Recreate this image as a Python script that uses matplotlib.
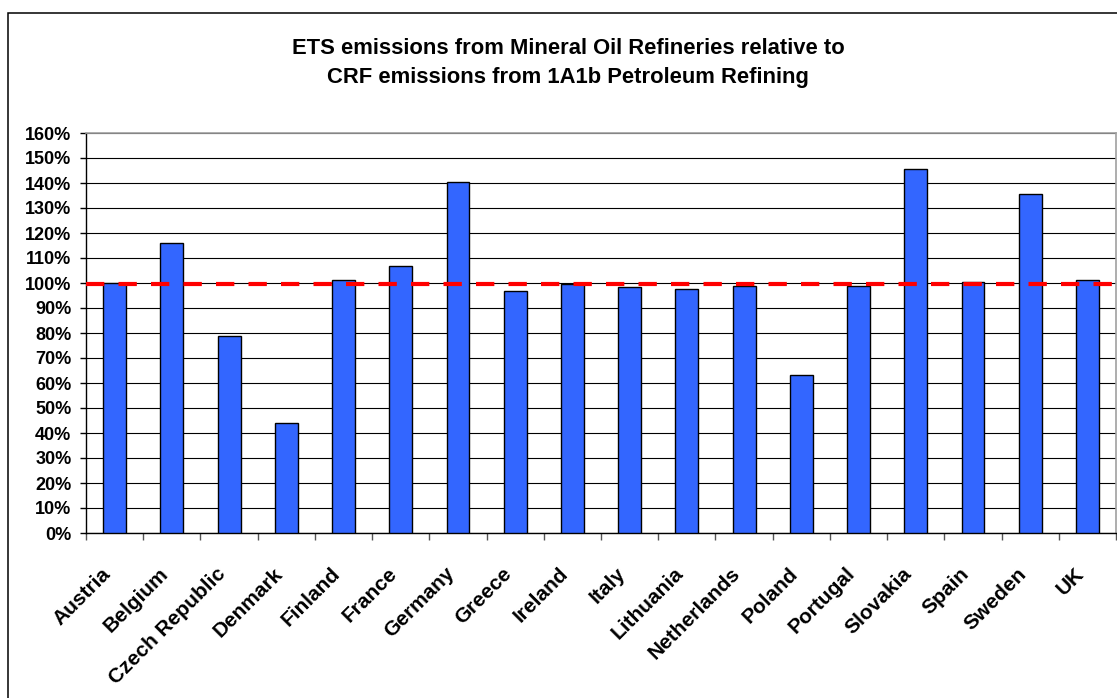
import numpy as np
import matplotlib.pyplot as plt
from matplotlib.patches import Rectangle
from matplotlib.ticker import FixedLocator, PercentFormatter

# ETS emissions from mineral oil refineries as a share of CRF 1A1b emissions
countries = ["Austria", "Belgium", "Czech Republic", "Denmark", "Finland", "France",
             "Germany", "Greece", "Ireland", "Italy", "Lithuania", "Netherlands",
             "Poland", "Portugal", "Slovakia", "Spain", "Sweden", "UK"]
ratio_pct = [99.9, 116.0, 78.8, 43.9, 101.2, 106.7,
             140.4, 96.8, 99.7, 98.3, 97.6, 98.7,
             63.3, 98.7, 145.5, 100.3, 135.5, 101.2]
reference_pct = 99.6

plt.rcParams['font.family'] = ['Liberation Sans', 'DejaVu Sans']
plt.rcParams['font.weight'] = 'bold'

W, H = 1117, 698
fig = plt.figure(figsize=(W / 100, H / 100), dpi=100)
ax = fig.add_axes([86 / W, 1 - 533 / H, (1116 - 86) / W, (533 - 133) / H])

# chart frame
fig.patches.append(Rectangle((8 / W, -0.1), 1.2, 1 - 13 / H + 0.1,
                             transform=fig.transFigure, fill=False,
                             edgecolor='black', linewidth=1.1))

x = np.arange(len(countries))
ax.bar(x, ratio_pct, width=0.4, color='#3366FF', edgecolor='black',
       linewidth=1.0, zorder=3)
ax.axhline(reference_pct, color='#FF0000', linewidth=3, dashes=(4.4, 3.4),
           zorder=4)

ax.set_xlim(-0.5, len(countries) - 0.5)
ax.set_ylim(0, 160)
ax.yaxis.set_major_locator(FixedLocator(np.arange(0, 161, 10)))
ax.yaxis.set_major_formatter(PercentFormatter(decimals=0))
ax.grid(axis='y', color='black', linewidth=0.8, zorder=1)

ax.set_xticks(x)
ax.set_xticklabels(countries, rotation=45, ha='right', va='bottom',
                   rotation_mode='anchor', fontsize=15, fontweight='bold')
ax.xaxis.set_minor_locator(FixedLocator(np.arange(-0.5, len(countries), 1)))
ax.tick_params(axis='x', which='major', length=0, pad=32)
ax.tick_params(axis='x', which='minor', length=5, width=1, color='#555555')
ax.tick_params(axis='y', length=4.5, width=1, labelsize=13, pad=6)
for lab in ax.get_yticklabels():
    lab.set_fontweight('bold')

for side in ('top', 'right'):
    ax.spines[side].set_color('#A0A0A0')
    ax.spines[side].set_linewidth(1.2)
for side in ('left', 'bottom'):
    ax.spines[side].set_color('black')
    ax.spines[side].set_linewidth(1.0)

fig.text(568 / W, 1 - 38 / H,
         "ETS emissions from Mineral Oil Refineries relative to\n"
         "CRF emissions from 1A1b Petroleum Refining",
         ha='center', va='top', fontsize=15.8, fontweight='bold',
         linespacing=1.48)

fig.savefig('out.png', dpi=100)
